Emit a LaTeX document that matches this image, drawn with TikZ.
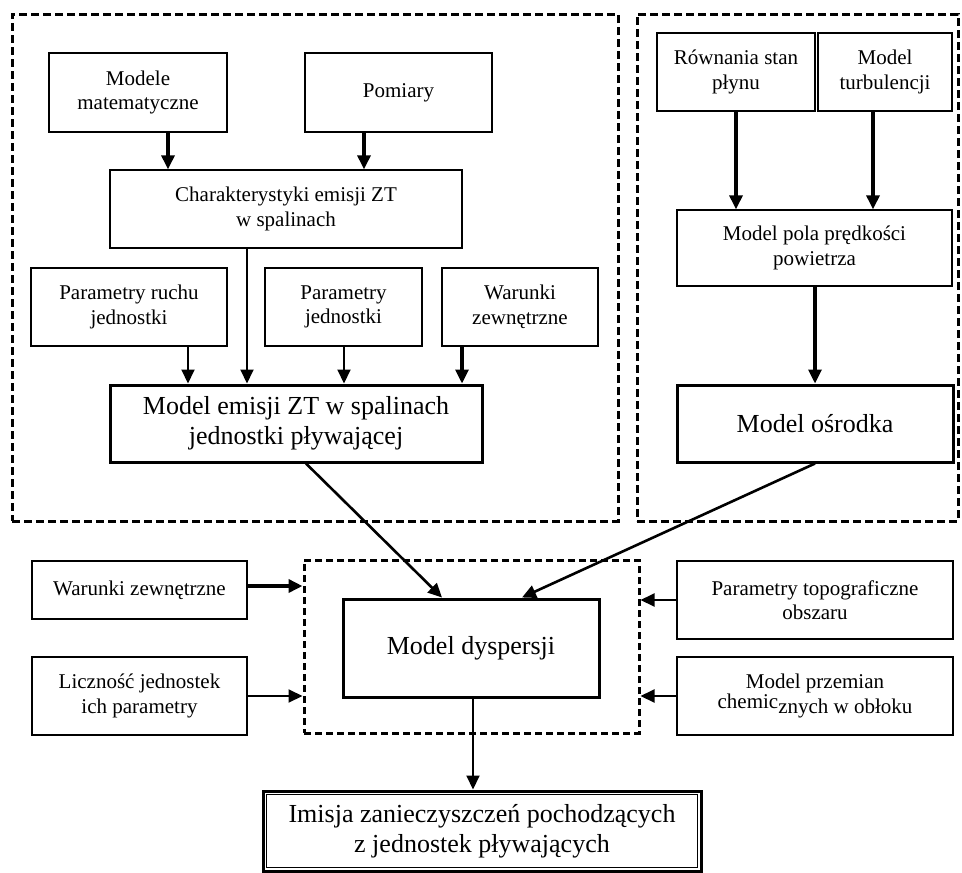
\documentclass[tikz,border=0pt]{standalone}
\usepackage{fontspec}
\setmainfont{Liberation Serif}
\usetikzlibrary{arrows.meta}
\begin{document}
\begin{tikzpicture}[x=1pt,y=-1pt,
  box/.style={draw, line width=1.3pt, align=center, inner sep=0pt, font=\fontsize{21}{24.5}\selectfont},
  bigbox/.style={draw, line width=3pt, align=center, inner sep=0pt, font=\fontsize{26}{30}\selectfont},
  dashbox/.style={draw, line width=3pt, dash pattern=on 8pt off 4pt, inner sep=0pt},
  arr/.style={-{Triangle[length=14pt,width=13pt]}, line width=2pt},
  tarr/.style={-{Triangle[length=14pt,width=13pt]}, line width=3.2pt},
]
\useasboundingbox (0,0) rectangle (962,873);
% groups
\node[dashbox, minimum width=606pt, minimum height=507pt] (groupL) at (315,267.5) {};
\node[dashbox, minimum width=321pt, minimum height=507pt] (groupR) at (797.5,267.5) {};
\node[dashbox, dash pattern=on 7pt off 4pt, minimum width=335pt, minimum height=173pt] (groupD) at (471.5,646.5) {};
% left group
\node[box, minimum width=178pt, minimum height=79pt] (modele) at (138,92.5) {Modele\\matematyczne};
\node[box, minimum width=187pt, minimum height=79pt] (pomiary) at (398.5,92.5) {Pomiary};
\node[box, minimum width=352pt, minimum height=78pt] (charakt) at (286,209) {Charakterystyki emisji ZT\\w spalinach};
\node[box, minimum width=196pt, minimum height=78pt] (pruchu) at (129,307) {Parametry ruchu\\jednostki};
\node[box, minimum width=157pt, minimum height=78pt] (pjedn) at (343.5,307) {Parametry\\jednostki};
\node[box, minimum width=156pt, minimum height=78pt] (warA) at (520,307) {Warunki\\zewnętrzne};
\node[bigbox, minimum width=372pt, minimum height=77pt] (memisji) at (296,423.5) {Model emisji ZT w spalinach\\jednostki pływającej};
% right group
\node[box, minimum width=158pt, minimum height=78pt] (rown) at (736,72) {Równania stan\\płynu};
\node[box, minimum width=134pt, minimum height=78pt] (turb) at (885,72) {Model\\turbulencji};
\node[box, minimum width=275pt, minimum height=76pt] (mpola) at (814.5,248) {Model pola prędkości\\powietrza};
\node[bigbox, minimum width=276pt, minimum height=77pt] (mosr) at (815,423.5) {Model ośrodka};
% bottom
\node[box, minimum width=215pt, minimum height=58pt] (warB) at (139.5,590) {Warunki zewnętrzne};
\node[box, minimum width=215pt, minimum height=78pt] (licz) at (139.5,696) {Liczność jednostek\\ich parametry};
\node[box, minimum width=276pt, minimum height=78pt] (ptopo) at (815,600) {Parametry topograficzne\\obszaru};
\node[box, minimum width=276pt, minimum height=78pt] (mprz) at (815,696) {Model przemian\\\raisebox{5pt}{chemic}znych w obłoku};
\node[bigbox, minimum width=256pt, minimum height=98pt] (dysp) at (471,648) {Model dyspersji};
\node[bigbox, minimum width=438pt, minimum height=80pt] (imis) at (482,831) {Imisja zanieczyszczeń pochodzących\\z jednostek pływających};
\draw[line width=1.2pt] ([shift={(5,5)}]imis.north west) rectangle ([shift={(-5,-5)}]imis.south east);
% connectors
\draw[tarr] (modele.south -| 168,0) -- (charakt.north -| 168,0);
\draw[tarr] (pomiary.south -| 364,0) -- (charakt.north -| 364,0);
\draw[arr] (charakt.south -| 247,0) -- (memisji.north -| 247,0);
\draw[arr] (pruchu.south -| 188,0) -- (memisji.north -| 188,0);
\draw[arr] (pjedn.south -| 344,0) -- (memisji.north -| 344,0);
\draw[tarr] (warA.south -| 462,0) -- (memisji.north -| 462,0);
\draw[tarr] (rown.south -| 736,0) -- (mpola.north -| 736,0);
\draw[tarr] (turb.south -| 873,0) -- (mpola.north -| 873,0);
\draw[tarr] (mpola.south -| 815,0) -- (mosr.north -| 815,0);
\draw[arr, line width=2.6pt] (memisji.south -| 306,0) -- (dysp.north -| 442,0);
\draw[arr, line width=2.6pt] (mosr.south -| 815,0) -- (dysp.north -| 522,0);
\draw[tarr, line width=3.6pt] (warB.east |- 0,586) -- (groupD.west |- 0,586);
\draw[arr] (licz.east |- 0,696) -- (groupD.west |- 0,696);
\draw[arr] (ptopo.west) -- (groupD.east |- ptopo.west);
\draw[arr] (mprz.west) -- (groupD.east |- mprz.west);
\draw[arr] (dysp.south -| 473,0) -- (imis.north -| 473,0);
\end{tikzpicture}
\end{document}
